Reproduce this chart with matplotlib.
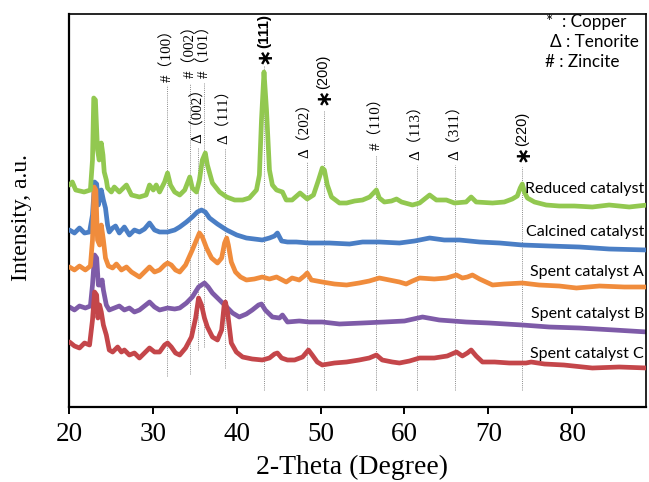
import matplotlib
matplotlib.use("Agg")
import matplotlib.pyplot as plt

# ---------------- data (2-theta in degrees, intensity in a.u.) ----------------
reduced_x = [20.06, 20.4, 20.8, 21.8, 22.55, 22.8, 22.95, 23.15, 23.4, 23.6, 23.85, 24.05, 24.2, 24.45,
             24.6, 25.05, 25.4, 26.0, 26.85, 27.45, 28.4, 29.2, 29.6, 30.05, 30.4, 30.8, 31.4, 31.75,
             32.1, 32.6, 33.2, 33.8, 34.4, 34.7, 35.2, 35.55, 35.9, 36.25, 36.5, 37.1, 37.95, 38.8,
             39.75, 40.7, 41.5, 42.35, 42.7, 42.95, 43.25, 43.55, 43.9, 44.25, 44.75, 45.45, 45.9,
             46.6, 47.55, 48.4, 49.15, 49.75, 50.2, 50.45, 50.8, 51.3, 52.25, 53.1, 54.05, 55.0,
             55.85, 56.65, 57.0, 57.6, 58.45, 59.05, 59.65, 60.95, 61.8, 63.0, 63.8, 65.0, 65.95,
             67.35, 67.95, 68.55, 70.5, 71.9, 72.85, 73.45, 73.8, 74.05, 74.3, 74.65, 75.5, 76.9,
             78.45, 80.25, 82.4, 84.4, 86.8, 88.95]
reduced_y = [222, 225, 217, 215, 217, 247, 309, 307, 257, 247, 264, 252, 235, 227,
             219, 215, 220, 215, 222, 212, 210, 212, 222, 217, 222, 215, 225, 234,
             222, 215, 212, 217, 230, 219, 215, 227, 247, 254, 242, 224, 215, 210,
             207, 207, 209, 217, 232, 287, 335, 297, 237, 222, 217, 215, 207,
             207, 214, 208, 212, 227, 239, 237, 222, 210, 204, 204, 206, 207,
             210, 217, 209, 205, 206, 208, 205, 202, 204, 212, 207, 207, 204,
             205, 210, 205, 204, 205, 208, 211, 219, 223, 215, 209, 205, 202,
             201, 201, 200, 202, 200, 202]

calcined_x = [20.06, 20.65, 21.25, 21.85, 22.45, 22.8, 23.05, 23.3, 23.5, 23.85, 24.1, 24.35, 24.6,
              24.8, 25.2, 25.55, 26.0, 26.6, 27.2, 27.8, 28.4, 29.0, 29.6, 30.2, 30.8, 31.75, 32.6,
              33.2, 34.0, 34.7, 35.3, 35.8, 36.25, 36.75, 37.7, 38.8, 40.0, 41.15, 42.1, 43.05,
              43.9, 44.5, 44.85, 45.35, 46.05, 47.1, 48.65, 51.05, 53.45, 55.0, 57.0, 59.4, 61.2,
              63.0, 64.75, 66.55, 68.95, 71.35, 74.05, 77.25, 80.85, 84.4, 88.95]
calcined_y = [177, 174, 179, 174, 175, 192, 225, 223, 202, 217, 207, 199, 182,
              175, 179, 181, 174, 180, 172, 177, 175, 178, 184, 177, 175, 175, 177,
              180, 185, 190, 195, 197, 195, 189, 183, 177, 172, 169, 168, 167,
              169, 171, 174, 166, 165, 165, 164, 164, 163, 165, 165, 164, 166,
              169, 167, 167, 165, 164, 162, 161, 160, 158, 157]

spentA_x = [20.06, 20.65, 21.25, 21.95, 22.55, 22.8, 23.0, 23.2, 23.4, 23.65, 23.85, 24.1, 24.35,
            24.7, 25.2, 25.65, 26.25, 26.85, 27.45, 28.4, 29.0, 29.6, 30.2, 30.8, 31.4, 31.75,
            32.2, 32.7, 33.2, 33.9, 34.7, 35.2, 35.55, 35.9, 36.4, 37.0, 37.7, 38.2, 38.55, 38.8,
            39.0, 39.35, 39.85, 40.45, 41.15, 42.1, 43.05, 43.9, 44.75, 45.9, 46.6, 47.45, 48.05,
            48.4, 48.9, 50.2, 51.65, 53.1, 54.6, 55.8, 57.0, 58.2, 59.4, 60.2, 60.95, 61.8, 63.55,
            65.0, 66.2, 66.9, 67.5, 68.1, 68.95, 70.5, 71.9, 74.05, 76.05, 78.45, 80.5, 83.25,
            86.2, 88.95]
spentA_y = [140, 137, 141, 137, 141, 167, 220, 217, 167, 162, 182, 167, 149,
            141, 139, 143, 137, 140, 135, 130, 135, 140, 135, 137, 142, 144,
            142, 137, 135, 142, 157, 167, 174, 170, 159, 149, 144, 149, 164, 169,
            162, 145, 135, 130, 127, 128, 130, 128, 130, 125, 129, 127, 131,
            134, 127, 125, 123, 122, 124, 126, 129, 127, 125, 123, 126, 129, 128,
            129, 132, 129, 130, 132, 128, 122, 123, 124, 122, 121, 119, 121,
            120, 120]

spentB_x = [20.06, 20.65, 21.25, 21.95, 22.55, 22.8, 23.05, 23.3, 23.5, 23.75, 23.95, 24.1, 24.45,
            24.8, 25.4, 26.0, 26.6, 27.2, 27.8, 28.4, 29.0, 29.6, 30.2, 30.8, 31.75, 32.6, 33.2,
            34.0, 34.7, 35.45, 36.15, 36.6, 37.1, 37.95, 38.8, 39.5, 40.3, 41.15, 41.85, 42.6,
            42.95, 43.4, 44.25, 45.1, 45.45, 46.05, 47.45, 48.65, 50.2, 52.25, 55.0, 57.6, 60.0,
            62.15, 64.15, 67.35, 70.1, 74.05, 77.25, 80.85, 85.0, 88.95]
spentB_y = [100, 97, 101, 99, 101, 122, 152, 149, 122, 122, 127, 117, 102,
            97, 99, 101, 97, 99, 95, 97, 101, 105, 100, 97, 99, 98, 99,
            104, 110, 120, 124, 120, 114, 107, 100, 94, 90, 93, 97, 102,
            103, 97, 90, 89, 92, 85, 86, 85, 85, 83, 84, 85, 86,
            90, 87, 85, 84, 82, 80, 79, 77, 75]

spentC_x = [20.06, 20.65, 21.25, 21.85, 22.45, 22.8, 23.05, 23.3, 23.45, 23.65, 23.85, 24.1, 24.45,
            24.8, 25.2, 25.8, 26.25, 26.6, 27.2, 27.8, 28.4, 29.0, 29.6, 30.2, 30.8, 31.4, 31.75,
            32.2, 32.7, 33.2, 33.9, 34.6, 35.1, 35.45, 35.8, 36.15, 36.5, 37.1, 37.7, 38.2, 38.5,
            38.65, 38.9, 39.35, 39.95, 40.7, 41.85, 43.05, 43.9, 44.5, 44.85, 45.35, 46.05, 46.9,
            47.85, 48.55, 49.0, 49.6, 50.2, 51.65, 53.1, 54.6, 55.8, 56.65, 57.35, 58.55, 59.4,
            60.6, 61.8, 63.55, 65.1, 66.2, 66.9, 67.5, 67.95, 68.55, 69.3, 70.75, 72.5, 74.5,
            75.1, 76.7, 79.0, 82.4, 85.6, 88.95]
spentC_y = [65, 61, 59, 64, 62, 87, 115, 112, 89, 102, 95, 82, 72,
            57, 55, 60, 55, 57, 52, 54, 49, 54, 59, 55, 55, 62, 64,
            60, 54, 52, 59, 70, 89, 109, 102, 89, 80, 70, 67, 77, 102,
            105, 95, 64, 55, 50, 48, 47, 49, 53, 54, 49, 47, 47,
            50, 57, 52, 45, 42, 44, 45, 47, 49, 52, 47, 45, 44,
            46, 49, 49, 51, 55, 51, 54, 57, 51, 45, 45, 44, 44,
            45, 43, 42, 39, 40, 39]

series_names = ["Reduced catalyst", "Calcined catalyst", "Spent catalyst A",
                "Spent catalyst B", "Spent catalyst C"]
series_label_y = [218, 175, 135, 93, 53]

# reflection markers: position, label text, phase symbol, label base height, line bottom, line top
peak_pos = [31.65, 34.4, 36.1, 35.4, 38.6, 43.2, 48.35, 50.35, 56.65, 61.45, 66.0, 74.05]
peak_hkl = ["(100)", "(002)", "(101)", "(002)", "(111)", "(111)", "(202)", "(200)", "(110)",
            "(113)", "(311)", "(220)"]
peak_phase = ["#", "#", "#", "Δ", "Δ", "*", "Δ", "*", "#", "Δ", "Δ", "*"]
peak_label_base = [325, 329, 329, 264, 263, 343, 249, 302, 257, 247, 247, 245]
peak_line_bottom = [31, 33, 60, 57, 39, 17, 17, 17, 17, 17, 17, 17]
peak_line_top = [322, 323, 324, 259, 259, 341, 245, 297, 252, 242, 242, 240]
peak_label_x = [31.65, 34.4, 36.1, 35.35, 38.5, 43.3, 48.15, 50.35, 56.65, 61.4, 65.95, 74.05]

phase_keys = ["*  : Copper", "Δ : Tenorite", "# : Zincite"]
phase_key_x = [76.9, 77.4, 76.7]
phase_key_y = [385, 365, 345]

x_ticks = [20, 30, 40, 50, 60, 70, 80]

# ---------------- figure ----------------
fig = plt.figure(figsize=(6.49, 4.82), dpi=100)
ax = fig.add_axes([69 / 649, 1 - 407 / 482, 577 / 649, 393 / 482])

colors = ["#92C850", "#4A7EC5", "#F08C3C", "#7E5BA8", "#C4464A"]
xs = [reduced_x, calcined_x, spentA_x, spentB_x, spentC_x]
ys = [reduced_y, calcined_y, spentA_y, spentB_y, spentC_y]
zords = [6, 3, 5, 2, 4]
for x, y, c, z in zip(xs, ys, colors, zords):
    ax.plot(x, y, color=c, lw=3.4, solid_joinstyle="round", solid_capstyle="round", zorder=z)

for xp, yb, yt in zip(peak_pos, peak_line_bottom, peak_line_top):
    ax.plot([xp, xp], [yb, yt], color="#8a8a8a", lw=0.7, ls=(0, (1, 1.2)), zorder=1)

serif_cjk = ["Liberation Serif", "Noto Sans CJK SC", "DejaVu Sans"]
for xl, hkl, ph, yb in zip(peak_label_x, peak_hkl, peak_phase, peak_label_base):
    if ph == "*":
        bold = hkl == "(111)"
        ax.text(xl, yb, "∗", rotation=90, ha="center", va="bottom", fontsize=15,
                fontweight="bold", family="DejaVu Sans", zorder=7)
        ax.text(xl, yb + 16, hkl, rotation=90, ha="center", va="bottom",
                fontsize=11 if bold else 10.5,
                fontweight="bold" if bold else "normal", family="Liberation Sans", zorder=7)
    else:
        hk = hkl.replace("(", "（").replace(")", "）")
        ax.text(xl, yb, ph + hk, rotation=90, ha="center", va="bottom", fontsize=10.8,
                family=serif_cjk, zorder=7)

for s, yy in zip(series_names, series_label_y):
    ax.text(88.55, yy, s, ha="right", va="center", fontsize=11.5, family="Lato", zorder=8)

for s, xx, yy in zip(phase_keys, phase_key_x, phase_key_y):
    ax.text(xx, yy, s, ha="left", va="center", fontsize=12.3, family="Lato", zorder=8)

ax.set_xlim(20, 20 + 577 / 8.387)
ax.set_ylim(0, 393)
ax.set_xticks(x_ticks)
ax.set_xticklabels([str(t) for t in x_ticks], family="Liberation Serif", fontsize=19.5)
ax.set_yticks([])
ax.tick_params(axis="x", direction="out", length=5, width=1.4, pad=6, color="black")
for side, w in [("left", 1.6), ("bottom", 1.6), ("top", 1.2), ("right", 1.2)]:
    ax.spines[side].set_linewidth(w)
    ax.spines[side].set_color("black")

fig.text(352 / 649, 1 - 467 / 482, "2-Theta (Degree)", ha="center", va="center",
         family="Liberation Serif", fontsize=20)
fig.text(22 / 649, 1 - 218 / 482, "Intensity, a.u.", ha="center", va="center",
         rotation=90, family="Liberation Serif", fontsize=17)

fig.savefig("out.png", dpi=100)
